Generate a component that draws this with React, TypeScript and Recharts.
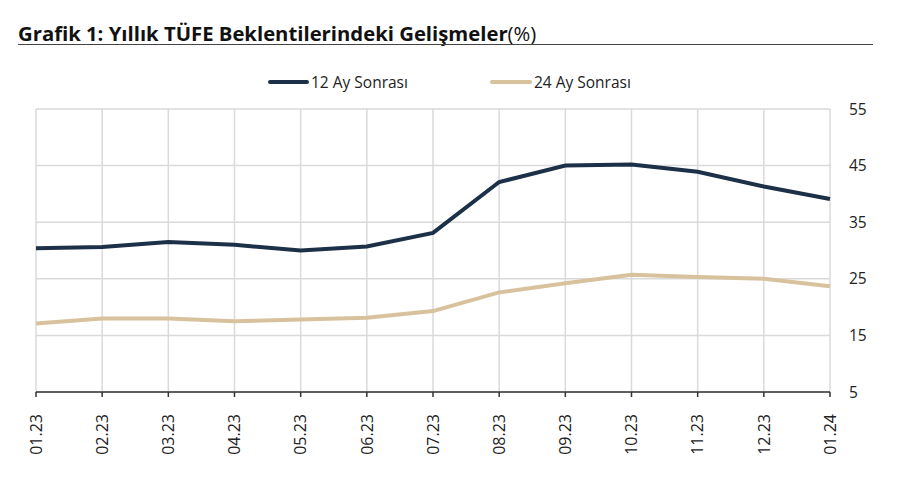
import { LineChart, Line, XAxis, YAxis, CartesianGrid } from "recharts";

const months = ["01.23", "02.23", "03.23", "04.23", "05.23", "06.23", "07.23", "08.23", "09.23", "10.23", "11.23", "12.23", "01.24"];
const ay12 = [30.4, 30.6, 31.5, 31.0, 30.0, 30.7, 33.1, 42.1, 45.0, 45.2, 43.9, 41.3, 39.1];
const ay24 = [17.1, 18.0, 18.0, 17.5, 17.8, 18.1, 19.3, 22.6, 24.2, 25.7, 25.3, 25.0, 23.7];
const yTicks = [5, 15, 25, 35, 45, 55];

const NAVY = "#1c3148";
const TAN = "#d8c29d";
const FONT = "'Open Sans', sans-serif";

const data = months.map((m, i) => ({ month: m, a12: ay12[i], a24: ay24[i] }));

function MonthTick(props: any) {
  const { x, y, payload } = props;
  return (
    <text
      x={x}
      y={y + 15}
      transform={`rotate(-90, ${x}, ${y + 15})`}
      textAnchor="end"
      dy="0.36em"
      fontSize={16}
      fill="#222"
      fontFamily={FONT}
    >
      {payload.value}
    </text>
  );
}

export default function App() {
  return (
    <div style={{ position: "absolute", left: 0, top: 0, width: 905, height: 487, background: "#fff", fontFamily: FONT }}>
      <div style={{ position: "absolute", left: 18, top: 20, fontSize: 20.3, color: "#111", whiteSpace: "nowrap", lineHeight: "26px" }}>
        <span style={{ fontWeight: 700 }}>Grafik 1: Yıllık TÜFE Beklentilerindeki Gelişmeler</span>
        <span>(%)</span>
      </div>
      <div style={{ position: "absolute", left: 18, top: 44, width: 855, height: 1, background: "#444" }} />

      <div style={{ position: "absolute", left: 268, top: 71, display: "flex", alignItems: "center", fontSize: 15.5, color: "#222" }}>
        <span style={{ display: "inline-block", width: 41, height: 4, borderRadius: 2, background: NAVY }} />
        <span style={{ marginLeft: 2 }}>12 Ay Sonrası</span>
        <span style={{ display: "inline-block", width: 42, height: 4, borderRadius: 2, background: TAN, marginLeft: 82 }} />
        <span style={{ marginLeft: 2 }}>24 Ay Sonrası</span>
      </div>

      <LineChart width={905} height={487} data={data} margin={{ top: 109, right: 30, bottom: 0, left: 36 }}>
        <CartesianGrid stroke="#dadada" strokeWidth={1.5} />
        <XAxis
          dataKey="month"
          height={95}
          interval={0}
          axisLine={{ stroke: "#333", strokeWidth: 1.5 }}
          tickLine={{ stroke: "#333", strokeWidth: 1.5 }}
          tickSize={5}
          tick={<MonthTick />}
        />
        <YAxis
          orientation="right"
          width={45}
          domain={[5, 55]}
          ticks={yTicks}
          axisLine={false}
          tickLine={false}
          tickMargin={13}
          tick={{ fontSize: 15.5, fill: "#222", fontFamily: FONT, textAnchor: "start" }}
        />
        <Line dataKey="a12" stroke={NAVY} strokeWidth={4} dot={false} isAnimationActive={false} />
        <Line dataKey="a24" stroke={TAN} strokeWidth={4} dot={false} isAnimationActive={false} />
      </LineChart>
    </div>
  );
}
